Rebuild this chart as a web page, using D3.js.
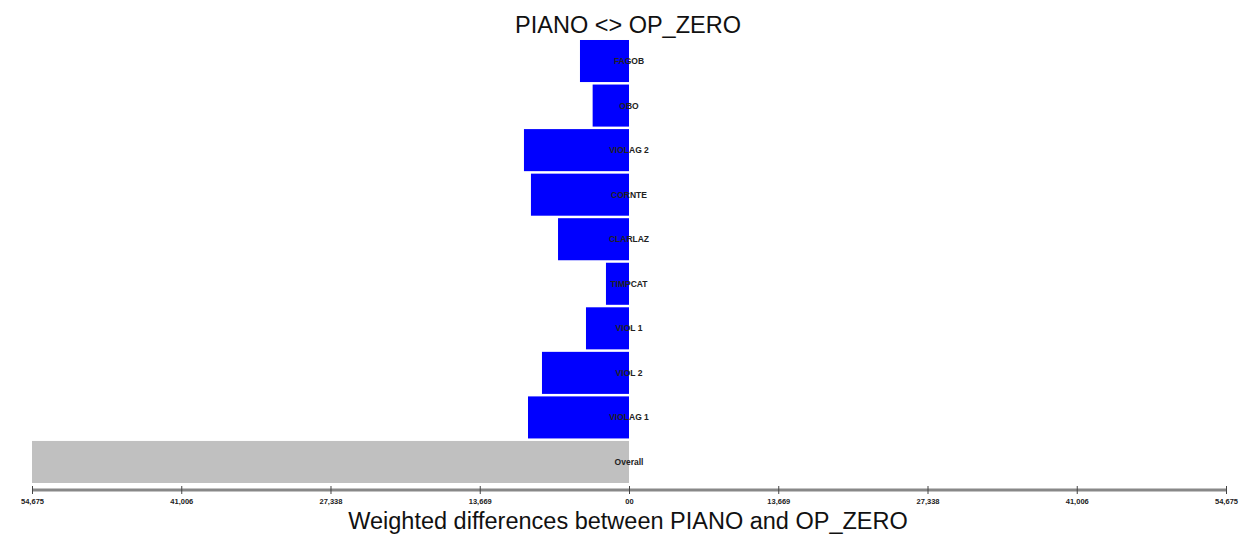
<!DOCTYPE html>
<html><head><meta charset="utf-8">
<script src="https://cdn.jsdelivr.net/npm/d3@7"></script>
<style>html,body{margin:0;padding:0;background:#fff;}svg{display:block;}</style>
</head><body>
<svg id="chart" width="1240" height="534"></svg>
<script>
const categories = ["FAGOB","OBO","VIOLAG 2","CORNTE","CLARLAZ","TIMPCAT","VIOL 1","VIOL 2","VIOLAG 1","Overall"];
const values = [-4490,-3330,-9620,-8980,-6500,-2110,-3940,-7970,-9250,-54675];
const isOverall = [false,false,false,false,false,false,false,false,false,true];
const tickValues = [-54675,-41006,-27338,-13669,0,13669,27338,41006,54675];
const tickLabels = ["54,675","41,006","27,338","13,669","00","13,669","27,338","41,006","54,675"];
const titleText = "PIANO <> OP_ZERO";
const xTitle = "Weighted differences between PIANO and OP_ZERO";

const svg = d3.select("#chart");
const x = d3.scaleLinear().domain([-54675,54675]).range([32,1226]);
const y = d3.scaleBand().domain(categories).range([38.75,484.25]).paddingInner(0.056).paddingOuter(0.028);

svg.append("text").attr("x",628).attr("y",33).attr("text-anchor","middle")
  .attr("font-family","Liberation Sans, Arial, sans-serif").attr("font-size",23.5)
  .attr("fill","#111").text(titleText);

svg.append("g").selectAll("rect").data(categories).join("rect")
  .attr("x",(d,i)=>x(Math.min(0,values[i])))
  .attr("y",d=>y(d))
  .attr("width",(d,i)=>Math.abs(x(values[i])-x(0)))
  .attr("height",y.bandwidth())
  .attr("fill",(d,i)=>isOverall[i]?"#c0c0c0":"#0000ff");

svg.append("g").selectAll("text").data(categories).join("text")
  .attr("x",x(0)).attr("y",d=>y(d)+y.bandwidth()/2+3)
  .attr("text-anchor","middle").attr("font-family","Liberation Sans, Arial, sans-serif")
  .attr("font-size",8.5).attr("font-weight","bold").attr("fill","#222").text(d=>d);

const axis = d3.axisBottom(x).tickValues(tickValues).tickFormat((d,i)=>tickLabels[i]).tickSize(5).tickPadding(4);
const ag = svg.append("g").attr("transform","translate(0,490)").call(axis);
ag.select(".domain").attr("stroke","#888").attr("stroke-width",3).attr("d","M32,0H1226");
ag.selectAll(".tick line").attr("stroke","#444").attr("y1",-4).attr("y2",4);
ag.selectAll(".tick text").attr("font-family","Liberation Sans, Arial, sans-serif")
  .attr("font-size",7.5).attr("font-weight","bold").attr("fill","#222");

svg.append("text").attr("x",628).attr("y",529).attr("text-anchor","middle")
  .attr("font-family","Liberation Sans, Arial, sans-serif").attr("font-size",23.5)
  .attr("fill","#111").text(xTitle);
</script>
</body></html>
